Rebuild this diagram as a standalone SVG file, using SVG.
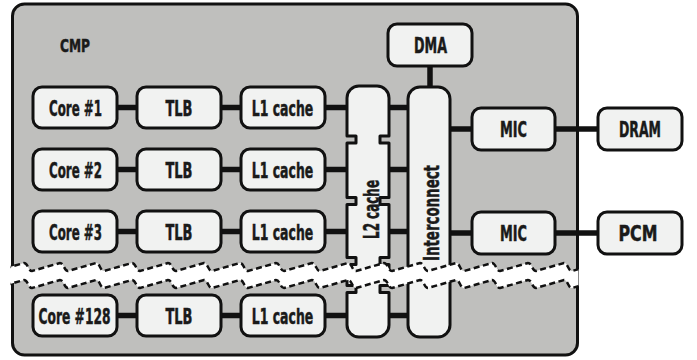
<svg xmlns="http://www.w3.org/2000/svg" width="697" height="360" viewBox="0 0 697 360">
<style>
.box{fill:#f1f2f1;stroke:#111;stroke-width:3;stroke-linejoin:round}
.cmp{fill:#bfbfbd;stroke:#111;stroke-width:3}
.con{stroke:#111;stroke-width:5.5;fill:none}
.t{font-family:"Liberation Sans Narrow","DejaVu Sans Condensed","Liberation Sans",sans-serif;font-weight:bold;font-size:22px;fill:#1a1a1a;stroke:#1a1a1a;stroke-width:0.5;text-anchor:middle}
.edge{fill:none;stroke:#111;stroke-width:2.5;stroke-dasharray:6 3.5}
</style>
<defs>
<clipPath id="bandclip"><rect x="10.5" y="240" width="568" height="70"/></clipPath>
</defs>
<g id="cmp">
<rect class="cmp" x="12.5" y="4" width="565" height="351" rx="12"/>
<text class="t" x="75" y="52" style="font-size:18px" textLength="30" lengthAdjust="spacingAndGlyphs">CMP</text>
</g>
<g id="connectors">
<line class="con" x1="117" y1="107.5" x2="137" y2="107.5"/>
<line class="con" x1="221" y1="107.5" x2="241" y2="107.5"/>
<line class="con" x1="325" y1="107.5" x2="347" y2="107.5"/>
<line class="con" x1="389" y1="107.5" x2="408" y2="107.5"/>
<line class="con" x1="117" y1="169.5" x2="137" y2="169.5"/>
<line class="con" x1="221" y1="169.5" x2="241" y2="169.5"/>
<line class="con" x1="325" y1="169.5" x2="347" y2="169.5"/>
<line class="con" x1="389" y1="169.5" x2="408" y2="169.5"/>
<line class="con" x1="117" y1="231.5" x2="137" y2="231.5"/>
<line class="con" x1="221" y1="231.5" x2="241" y2="231.5"/>
<line class="con" x1="325" y1="231.5" x2="347" y2="231.5"/>
<line class="con" x1="389" y1="231.5" x2="408" y2="231.5"/>
<line class="con" x1="117" y1="315.5" x2="137" y2="315.5"/>
<line class="con" x1="221" y1="315.5" x2="241" y2="315.5"/>
<line class="con" x1="325" y1="315.5" x2="347" y2="315.5"/>
<line class="con" x1="389" y1="315.5" x2="408" y2="315.5"/>
<line class="con" x1="430" y1="66" x2="430" y2="87"/>
<line class="con" x1="450" y1="129" x2="472" y2="129"/>
<line class="con" x1="555" y1="129" x2="598" y2="129"/>
<line class="con" x1="450" y1="233" x2="472" y2="233"/>
<line class="con" x1="555" y1="233" x2="598" y2="233"/>
</g>
<g id="core1"><rect class="box" x="33" y="87" width="84" height="41" rx="9"/><text class="t" x="75.5" y="115.5" textLength="53" lengthAdjust="spacingAndGlyphs">Core #1</text></g>
<g id="tlb1"><rect class="box" x="137" y="87" width="84" height="41" rx="9"/><text class="t" x="179" y="115.5" textLength="27" lengthAdjust="spacingAndGlyphs">TLB</text></g>
<g id="l1_1"><rect class="box" x="241" y="87" width="84" height="41" rx="9"/><text class="t" x="282.5" y="115.5" textLength="61.5" lengthAdjust="spacingAndGlyphs">L1 cache</text></g>
<g id="core2"><rect class="box" x="33" y="149" width="84" height="41" rx="9"/><text class="t" x="75.5" y="177.5" textLength="53" lengthAdjust="spacingAndGlyphs">Core #2</text></g>
<g id="tlb2"><rect class="box" x="137" y="149" width="84" height="41" rx="9"/><text class="t" x="179" y="177.5" textLength="27" lengthAdjust="spacingAndGlyphs">TLB</text></g>
<g id="l1_2"><rect class="box" x="241" y="149" width="84" height="41" rx="9"/><text class="t" x="282.5" y="177.5" textLength="61.5" lengthAdjust="spacingAndGlyphs">L1 cache</text></g>
<g id="core3"><rect class="box" x="33" y="211" width="84" height="41" rx="9"/><text class="t" x="75.5" y="239.5" textLength="53" lengthAdjust="spacingAndGlyphs">Core #3</text></g>
<g id="tlb3"><rect class="box" x="137" y="211" width="84" height="41" rx="9"/><text class="t" x="179" y="239.5" textLength="27" lengthAdjust="spacingAndGlyphs">TLB</text></g>
<g id="l1_3"><rect class="box" x="241" y="211" width="84" height="41" rx="9"/><text class="t" x="282.5" y="239.5" textLength="61.5" lengthAdjust="spacingAndGlyphs">L1 cache</text></g>
<g id="core128"><rect class="box" x="33" y="295" width="84" height="41" rx="9"/><text class="t" x="74.5" y="323.5" textLength="72" lengthAdjust="spacingAndGlyphs">Core #128</text></g>
<g id="tlb128"><rect class="box" x="137" y="295" width="84" height="41" rx="9"/><text class="t" x="179" y="323.5" textLength="27" lengthAdjust="spacingAndGlyphs">TLB</text></g>
<g id="l1_128"><rect class="box" x="241" y="295" width="84" height="41" rx="9"/><text class="t" x="282.5" y="323.5" textLength="61.5" lengthAdjust="spacingAndGlyphs">L1 cache</text></g>
<g id="l2cache">
<path class="box" d="M347,98 a12,12 0 0 1 12,-12 H377 a12,12 0 0 1 12,12 V136 H380 V143 H389 V197.5 H380 V204.5 H389 V257.5 H380 V264.5 H389 V285.5 H380 V292.5 H389 V325 a12,12 0 0 1 -12,12 H359 a12,12 0 0 1 -12,-12 V292.5 H356 V285.5 H347 V264.5 H356 V257.5 H347 V204.5 H356 V197.5 H347 V143 H356 V136 H347 Z"/>
<text class="t" transform="translate(378.5,209.5) rotate(-90)" x="0" y="0" textLength="59" lengthAdjust="spacingAndGlyphs">L2 cache</text>
</g>
<g id="interconnect">
<rect class="box" x="408" y="87" width="42" height="250" rx="12"/>
<text class="t" transform="translate(438.5,213) rotate(-90)" x="0" y="0" textLength="96" lengthAdjust="spacingAndGlyphs">Interconnect</text>
</g>
<g id="dma"><rect class="box" x="388" y="24" width="84" height="42" rx="9"/><text class="t" x="430.5" y="53" textLength="33" lengthAdjust="spacingAndGlyphs">DMA</text></g>
<g id="mic1"><rect class="box" x="472" y="108" width="83" height="42" rx="9"/><text class="t" x="513.5" y="137" textLength="27" lengthAdjust="spacingAndGlyphs">MIC</text></g>
<g id="dram"><rect class="box" x="598" y="108" width="84" height="42" rx="9"/><text class="t" x="640" y="137" textLength="42" lengthAdjust="spacingAndGlyphs">DRAM</text></g>
<g id="mic2"><rect class="box" x="472" y="212" width="83" height="42" rx="9"/><text class="t" x="513.5" y="241" textLength="27" lengthAdjust="spacingAndGlyphs">MIC</text></g>
<g id="pcm"><rect class="box" x="598" y="212" width="84" height="42" rx="9"/><text class="t" x="638" y="241" textLength="39" lengthAdjust="spacingAndGlyphs">PCM</text></g>
<g id="break" clip-path="url(#bandclip)">
<path fill="#fff" d="M-4,271 l28,-8 c4,0 4,8 8,8 l28,-8 c4,0 4,8 8,8 l28,-8 c4,0 4,8 8,8 l28,-8 c4,0 4,8 8,8 l28,-8 c4,0 4,8 8,8 l28,-8 c4,0 4,8 8,8 l28,-8 c4,0 4,8 8,8 l28,-8 c4,0 4,8 8,8 l28,-8 c4,0 4,8 8,8 l28,-8 c4,0 4,8 8,8 l28,-8 c4,0 4,8 8,8 l28,-8 c4,0 4,8 8,8 l28,-8 c4,0 4,8 8,8 l28,-8 c4,0 4,8 8,8 l28,-8 c4,0 4,8 8,8 l28,-8 c4,0 4,8 8,8 l28,-8 c4,0 4,8 8,8 L608,288 c-4,0 -4,-8 -8,-8 l-28,8 c-4,0 -4,-8 -8,-8 l-28,8 c-4,0 -4,-8 -8,-8 l-28,8 c-4,0 -4,-8 -8,-8 l-28,8 c-4,0 -4,-8 -8,-8 l-28,8 c-4,0 -4,-8 -8,-8 l-28,8 c-4,0 -4,-8 -8,-8 l-28,8 c-4,0 -4,-8 -8,-8 l-28,8 c-4,0 -4,-8 -8,-8 l-28,8 c-4,0 -4,-8 -8,-8 l-28,8 c-4,0 -4,-8 -8,-8 l-28,8 c-4,0 -4,-8 -8,-8 l-28,8 c-4,0 -4,-8 -8,-8 l-28,8 c-4,0 -4,-8 -8,-8 l-28,8 c-4,0 -4,-8 -8,-8 l-28,8 c-4,0 -4,-8 -8,-8 l-28,8 c-4,0 -4,-8 -8,-8 l-28,8 Z"/>
<path class="edge" d="M-4,271 l28,-8 c4,0 4,8 8,8 l28,-8 c4,0 4,8 8,8 l28,-8 c4,0 4,8 8,8 l28,-8 c4,0 4,8 8,8 l28,-8 c4,0 4,8 8,8 l28,-8 c4,0 4,8 8,8 l28,-8 c4,0 4,8 8,8 l28,-8 c4,0 4,8 8,8 l28,-8 c4,0 4,8 8,8 l28,-8 c4,0 4,8 8,8 l28,-8 c4,0 4,8 8,8 l28,-8 c4,0 4,8 8,8 l28,-8 c4,0 4,8 8,8 l28,-8 c4,0 4,8 8,8 l28,-8 c4,0 4,8 8,8 l28,-8 c4,0 4,8 8,8 l28,-8 c4,0 4,8 8,8"/>
<path class="edge" d="M-4,288 l28,-8 c4,0 4,8 8,8 l28,-8 c4,0 4,8 8,8 l28,-8 c4,0 4,8 8,8 l28,-8 c4,0 4,8 8,8 l28,-8 c4,0 4,8 8,8 l28,-8 c4,0 4,8 8,8 l28,-8 c4,0 4,8 8,8 l28,-8 c4,0 4,8 8,8 l28,-8 c4,0 4,8 8,8 l28,-8 c4,0 4,8 8,8 l28,-8 c4,0 4,8 8,8 l28,-8 c4,0 4,8 8,8 l28,-8 c4,0 4,8 8,8 l28,-8 c4,0 4,8 8,8 l28,-8 c4,0 4,8 8,8 l28,-8 c4,0 4,8 8,8 l28,-8 c4,0 4,8 8,8"/>
</g>
</svg>
